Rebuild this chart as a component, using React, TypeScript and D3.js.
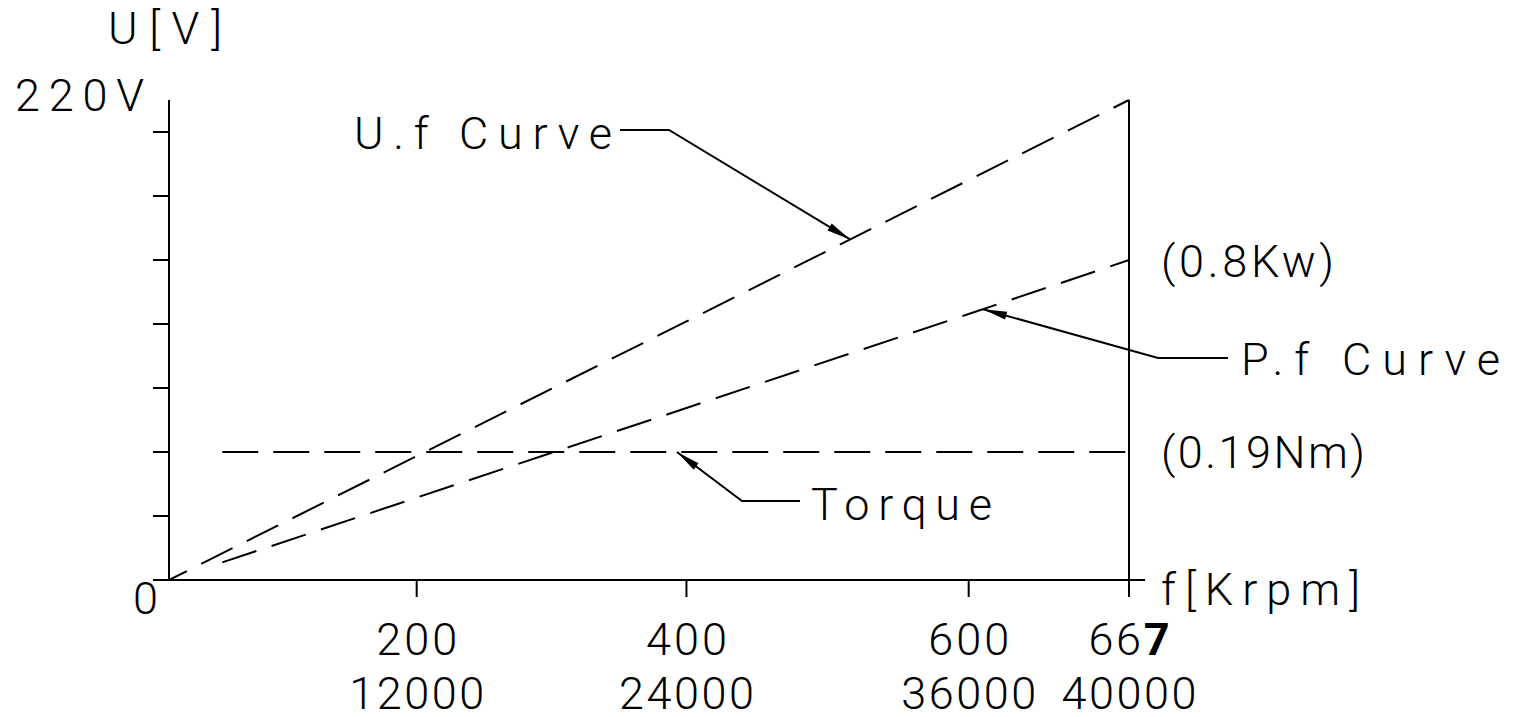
import React from 'react';
import * as d3 from 'd3';

// frequency axis: tick values (Krpm) and the matching rpm labels
const fTicks = [200, 400, 600, 667];
const rpmLabels = ['12000', '24000', '36000', '40000'];

// U.f curve (voltage vs frequency)
const uF = [0, 200, 400, 600, 667];
const uVolt = [0, 56.8, 118.5, 183.3, 220];

// P.f curve (power, kW)
const pF = [43, 200, 400, 600, 667];
const pKw = [0.044, 0.206, 0.43, 0.665, 0.8];

// torque (Nm), flat
const tF = [43, 667];
const tNm = [0.19, 0.19];

const uTickStep = 220 * 64 / 480;
const uTickCount = 7;

// leader targets (Krpm on each curve)
const uLeaderF = 516;
const pLeaderF = 606;
const tLeaderF = 393;

const W = 1521;
const H = 717;
const left = 169;
const right = 1129;
const top = 100;
const bottom = 580;
// the printed tick marks are not evenly spaced, so the f-scale is piecewise
const fBreaks = [0, 200, 400, 600, 667];
const fBreakFrac = [0, 0.258, 0.539, 0.833, 1];

const FONT = "Roboto, 'Open Sans', 'DejaVu Sans', sans-serif";

const interp = (xs: number[], ys: number[], v: number) => {
  const i = Math.max(1, d3.bisectLeft(xs, v));
  const t = (v - xs[i - 1]) / (xs[i] - xs[i - 1]);
  return ys[i - 1] + t * (ys[i] - ys[i - 1]);
};

const Arrow = ({ pts }: { pts: [number, number][] }) => {
  // pts: text end ... tip; arrowhead at the last point
  const [tx, ty] = pts[pts.length - 1];
  const [px, py] = pts[pts.length - 2];
  const a = Math.atan2(ty - py, tx - px);
  const len = 24, hw = 4;
  const bx = tx - len * Math.cos(a), by = ty - len * Math.sin(a);
  const head = [
    [tx, ty],
    [bx + hw * Math.sin(a), by - hw * Math.cos(a)],
    [bx - hw * Math.sin(a), by + hw * Math.cos(a)],
  ];
  return (
    <g>
      <path d={d3.line()(pts) || ''} fill="none" stroke="#000" strokeWidth={2} />
      <polygon points={head.map(p => p.join(',')).join(' ')} fill="#000" />
    </g>
  );
};

const Label = ({ x, y, w, children, anchor = 'start', size = 45 }: any) => (
  <text x={x} y={y} textLength={w} lengthAdjust="spacing" textAnchor={anchor}
    fontFamily={FONT} fontWeight={300} fontSize={size} fill="#000">{children}</text>
);

export default function App() {
  const x = d3.scaleLinear().domain(fBreaks).range(fBreakFrac.map(f => left + f * (right - left)));
  const yU = d3.scaleLinear().domain([0, 220]).range([bottom, top]);
  const yP = d3.scaleLinear().domain([0, 1.2]).range([bottom, top]);
  const yT = d3.scaleLinear().domain([0, 0.7125]).range([bottom, top]);

  const line = d3.line<[number, number]>();
  const uPath = line(uF.map((f, i) => [x(f), yU(uVolt[i])]));
  const pPath = line(pF.map((f, i) => [x(f), yP(pKw[i])]));
  const tPath = line(tF.map((f, i) => [x(f), yT(tNm[i])]));

  const uTip: [number, number] = [x(uLeaderF), yU(interp(uF, uVolt, uLeaderF))];
  const pTip: [number, number] = [x(pLeaderF), yP(interp(pF, pKw, pLeaderF))];
  const tTip: [number, number] = [x(tLeaderF), yT(tNm[0])];

  const uTicks = d3.range(1, uTickCount + 1).map(k => k * uTickStep);

  return (
    <svg width={W} height={H} style={{ position: 'absolute', left: 0, top: 0, display: 'block', background: '#fff' }}>
      {/* axes */}
      <g stroke="#000" strokeWidth={2}>
        <line x1={left} x2={left} y1={top} y2={bottom} />
        {uTicks.map(v => (
          <line key={v} x1={left - 16} x2={left} y1={yU(v)} y2={yU(v)} />
        ))}
        <line x1={left - 16} x2={right + 16} y1={bottom} y2={bottom} />
        {fTicks.map(f => (
          <line key={f} x1={x(f)} x2={x(f)} y1={bottom} y2={bottom + 17} />
        ))}
        <line x1={right} x2={right} y1={top} y2={bottom + 17} />
      </g>

      {/* curves */}
      <g fill="none" stroke="#000" strokeWidth={2}>
        <path d={uPath || ''} strokeDasharray="35,16" strokeDashoffset={15} />
        <path d={pPath || ''} strokeDasharray="36,16" />
        <path d={tPath || ''} strokeDasharray="36,15" />
      </g>

      {/* leaders */}
      <Arrow pts={[[620, 130], [669, 130], uTip]} />
      <Arrow pts={[[1228, 358], [1158, 358], pTip]} />
      <Arrow pts={[[800, 501], [742, 501], tTip]} />

      {/* labels */}
      <Label x={108} y={44} w={114}>U[V]</Label>
      <Label x={15} y={111} w={129}>220V</Label>
      <Label x={133} y={614}>0</Label>
      <Label x={354} y={149} w={258}>U.f Curve</Label>
      <Label x={1161} y={yP(0.8) + 17} w={173}>(0.8Kw)</Label>
      <Label x={1241} y={375} w={259}>P.f Curve</Label>
      <Label x={1161} y={yT(0.19) + 16} w={204}>(0.19Nm)</Label>
      <Label x={811} y={520} w={181}>Torque</Label>
      <Label x={1161} y={605} w={199}>f[Krpm]</Label>

      {fTicks.map((f, i) => (
        <g key={f}>
          <Label x={x(f)} y={655} w={81} anchor="middle">
            {f === 667 ? <><tspan>66</tspan><tspan fontWeight={700}>7</tspan></> : String(f)}
          </Label>
          <Label x={x(f)} y={709} w={135} anchor="middle">{rpmLabels[i]}</Label>
        </g>
      ))}
    </svg>
  );
}
